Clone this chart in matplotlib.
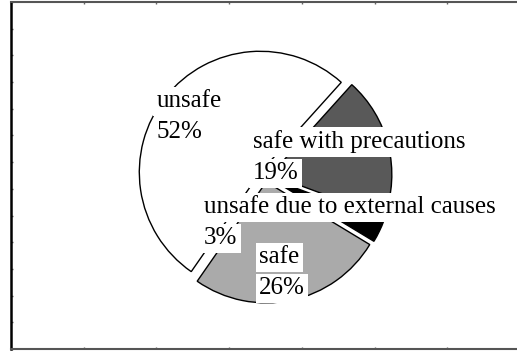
import matplotlib
matplotlib.use('Agg')
import matplotlib.pyplot as plt
import numpy as np

# pie data (percent)
labels = ['unsafe', 'safe with precautions', 'unsafe due to external causes', 'safe']
values = [52, 19, 3, 26]
colors = ['#ffffff', '#595959', '#000000', '#aaaaaa']

# where each label starts (left edge, first baseline) in axes pixel units
label_pos = [(146, 242), (242, 201), (193, 136), (248, 86)]
line_step = 31

plt.rcParams['font.family'] = ['Liberation Serif', 'DejaVu Serif']

fig = plt.figure(figsize=(5.17, 3.51), dpi=100)
ax = fig.add_axes([11/517, 2/351, 509/517, 347/351])

wedges, _ = ax.pie(values, colors=colors, explode=[6]*len(values),
                   radius=121, center=(254, 173), startangle=235.2,
                   counterclock=False, frame=True,
                   wedgeprops=dict(edgecolor='black', linewidth=1.0))
ax.set_aspect('auto')
ax.set_xlim(0, 509)
ax.set_ylim(0, 347)

# tiny inward ticks on every side, no tick labels
ax.set_xticks(np.linspace(0, 509, 8))
ax.set_yticks(np.linspace(0, 347, 14))
ax.tick_params(direction='in', length=1.5, width=1, color='#666666',
               top=True, right=True, labelbottom=False, labelleft=False)
for side in ['top', 'bottom', 'right']:
    ax.spines[side].set_color('#555555')
    ax.spines[side].set_linewidth(1.5)
ax.spines['left'].set_color('black')
ax.spines['left'].set_linewidth(1.8)

box = dict(facecolor='white', edgecolor='none', pad=2.5)
for name, v, (x, y) in zip(labels, values, label_pos):
    ax.text(x, y, name, fontsize=18, ha='left', va='baseline', bbox=box)
    ax.text(x, y - line_step, str(v) + '%', fontsize=18, ha='left',
            va='baseline', bbox=box)

plt.savefig('out.png', dpi=100)
